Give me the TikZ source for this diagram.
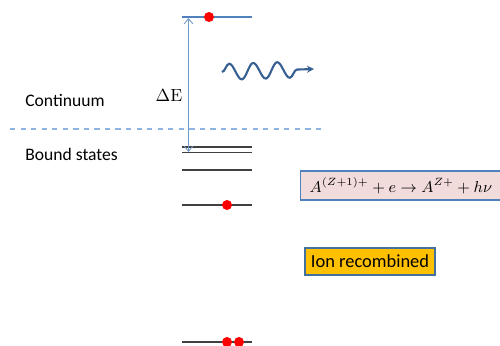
\documentclass[tikz,border=0pt]{standalone}
\usepackage{fontspec}
\newfontfamily\calibri{Carlito}
\usepackage{tikz}
\usetikzlibrary{positioning, arrows.meta, decorations.pathmorphing}

\definecolor{lineblue}{HTML}{4F81BD}
\definecolor{lightblue}{HTML}{8EB4E3}
\definecolor{waveblue}{HTML}{376092}
\definecolor{levelgray}{HTML}{404040}
\definecolor{eqpink}{HTML}{F2DCDB}
\definecolor{ionorange}{HTML}{FFC000}
\definecolor{ionborder}{HTML}{41719C}

\begin{document}
\begin{tikzpicture}[
        >=Stealth,
        level/.style={draw=levelgray, line width=1.1pt},
        electron/.style={circle, fill=red, inner sep=0pt, minimum size=0.2cm},
        label/.style={font=\calibri\fontsize{10}{12}\selectfont, anchor=west, inner sep=0pt},
        eqbox/.style={draw=lineblue, fill=eqpink, line width=0.8pt, anchor=west, text width=4.4cm, align=left, inner xsep=0.18cm, minimum height=0.58cm, font=\fontsize{8.7}{10}\selectfont},
        ionbox/.style={draw=ionborder, fill=ionorange, line width=0.8pt, font=\calibri\fontsize{10.5}{12}\selectfont, minimum width=2.53cm, minimum height=0.54cm},
        gap/.style={<->, draw=lineblue!80, line width=0.5pt, >={Straight Barb[length=3pt, width=5pt]}},
        wave/.style={-{Stealth[length=4pt, width=4pt]}, draw=waveblue, line width=1.2pt, decorate, decoration={snake, segment length=0.48cm, amplitude=0.16cm, post length=0.3cm}},
    ]
    \useasboundingbox (0,0) rectangle (10,-6.9);
    % continuum level
    \coordinate (top-l) at (3.64,-0.34);
    \coordinate (top-r) at (5.04,-0.34);
    \draw[draw=lineblue, line width=0.8pt] (top-l) -- (top-r);
    \node[electron] (e-free) at (4.18,-0.34) {};
    % ionization threshold
    \coordinate (thr-l) at (0.2,-2.58);
    \coordinate (thr-r) at (6.5,-2.58);
    \draw[draw=lightblue, dashed, line width=0.6pt] (thr-l) -- (thr-r);
    \node[label] (cont) at (0.5,-2.0) {Continuum};
    \node[label] (bound) at (0.5,-3.08) {Bound states};
    % bound levels
    \foreach \y/\n in {-2.94/b1, -3.05/b2, -3.40/b3, -4.10/b4, -6.84/b5} {
        \coordinate (\n-l) at (3.64,\y);
        \coordinate (\n-r) at (5.04,\y);
        \draw[level] (\n-l) -- (\n-r);
    }
    \node[electron] (e-b4) at (4.54,-4.10) {};
    \node[electron] (e-b5a) at (4.54,-6.84) {};
    \node[electron] (e-b5b) at (4.78,-6.84) {};
    % energy gap
    \coordinate (gap-top) at (3.77,-0.36);
    \coordinate (gap-bot) at (3.77,-3.04);
    \draw[gap] (gap-top) -- (gap-bot);
    \node (dE) at (3.38,-1.9) {$\Delta\mathrm{E}$};
    % photon
    \coordinate (ph-start) at (4.44,-1.44);
    \coordinate (ph-end) at (6.28,-1.38);
    \draw[wave] (ph-start) -- (ph-end);
    % reaction and result
    \node[eqbox] (eq) at (6.0,-3.71) {$A^{(Z+1)+}+e\to A^{Z+}+h\nu$};
    \node[ionbox] (ion) at (7.4,-5.23) {Ion recombined};
\end{tikzpicture}
\end{document}
